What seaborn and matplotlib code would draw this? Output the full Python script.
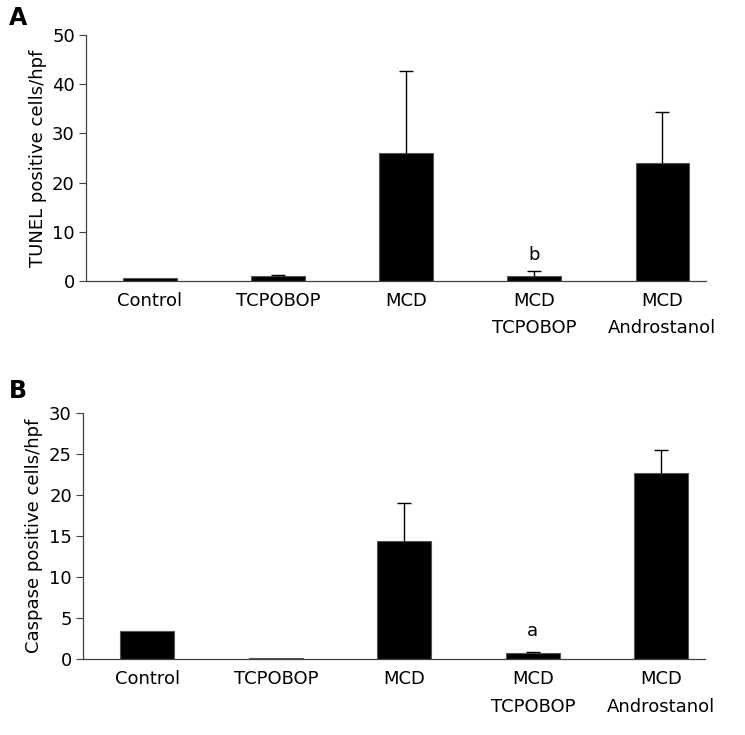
import numpy as np
import pandas as pd
import matplotlib
matplotlib.use('Agg')
import matplotlib.pyplot as plt
import seaborn as sns

# Group labels shown under the bars
groups = ['Control', 'TCPOBOP', 'MCD', 'MCD\nTCPOBOP', 'MCD\nAndrostanol']

# Panel A - TUNEL positive cells/hpf (mean, upper SD)
tunel_mean = [0.7, 1.0, 26.0, 1.0, 23.9]
tunel_err = [0.0, 0.2, 16.7, 1.1, 10.4]

# Panel B - Caspase positive cells/hpf (mean, upper SD)
casp_mean = [3.5, 0.2, 14.4, 0.8, 22.7]
casp_err = [0.0, 0.0, 4.6, 0.1, 2.8]

sns.set_style('white')
plt.rcParams['font.family'] = ['DejaVu Sans']
plt.rcParams['text.color'] = 'black'
plt.rcParams['axes.labelcolor'] = 'black'
plt.rcParams['xtick.color'] = 'black'
plt.rcParams['ytick.color'] = 'black'

fig = plt.figure(figsize=(7.45, 7.35), dpi=100)
ax_a = fig.add_axes([0.1154, 0.6177, 0.8323, 0.3347])
ax_b = fig.add_axes([0.1114, 0.1030, 0.8349, 0.3355])


def draw_panel(ax, means, errs, ylabel, ymax, ystep, note, note_y):
    df = pd.DataFrame({'group': groups, 'value': means})
    sns.barplot(data=df, x='group', y='value', order=groups, color='black',
                width=0.42, edgecolor='#555555', linewidth=0.8,
                saturation=1, errorbar=None, ax=ax)

    # upward-only error bars, skip groups without an error value
    x = np.arange(len(groups))
    m = np.array(means)
    e = np.array(errs)
    has_err = e > 0
    eb = ax.errorbar(x[has_err], m[has_err],
                     yerr=[np.zeros(has_err.sum()), e[has_err]],
                     fmt='none', ecolor='black', elinewidth=1.0,
                     capsize=5, capthick=1.0)
    eb[1][0].set_visible(False)
    ax.text(3, note_y, note, ha='center', va='center', fontsize=13)

    ax.set_ylim(0, ymax)
    ax.set_yticks(np.arange(0, ymax + 1, ystep))
    ax.set_xlim(-0.5, 4.34)
    ax.set_xlabel('')
    ax.set_ylabel(ylabel, fontsize=13, labelpad=4)
    ax.tick_params(axis='y', which='both', left=True, length=5, width=0.8,
                   color='#404040', labelsize=13, pad=3)
    ax.tick_params(axis='x', length=0, labelsize=13, pad=8)
    for lab in ax.get_xticklabels():
        lab.set_linespacing(1.65)
        lab.set_verticalalignment('top')
    sns.despine(ax=ax)
    for side in ['left', 'bottom']:
        ax.spines[side].set_color('#404040')
        ax.spines[side].set_linewidth(0.9)


draw_panel(ax_a, tunel_mean, tunel_err, 'TUNEL positive cells/hpf', 50, 10, 'b', 5.2)
draw_panel(ax_b, casp_mean, casp_err, 'Caspase positive cells/hpf', 30, 5, 'a', 3.5)

fig.text(0.012, 0.975, 'A', fontsize=17, fontweight='bold', va='center', ha='left')
fig.text(0.012, 0.468, 'B', fontsize=17, fontweight='bold', va='center', ha='left')

fig.savefig('out.png', dpi=100)
